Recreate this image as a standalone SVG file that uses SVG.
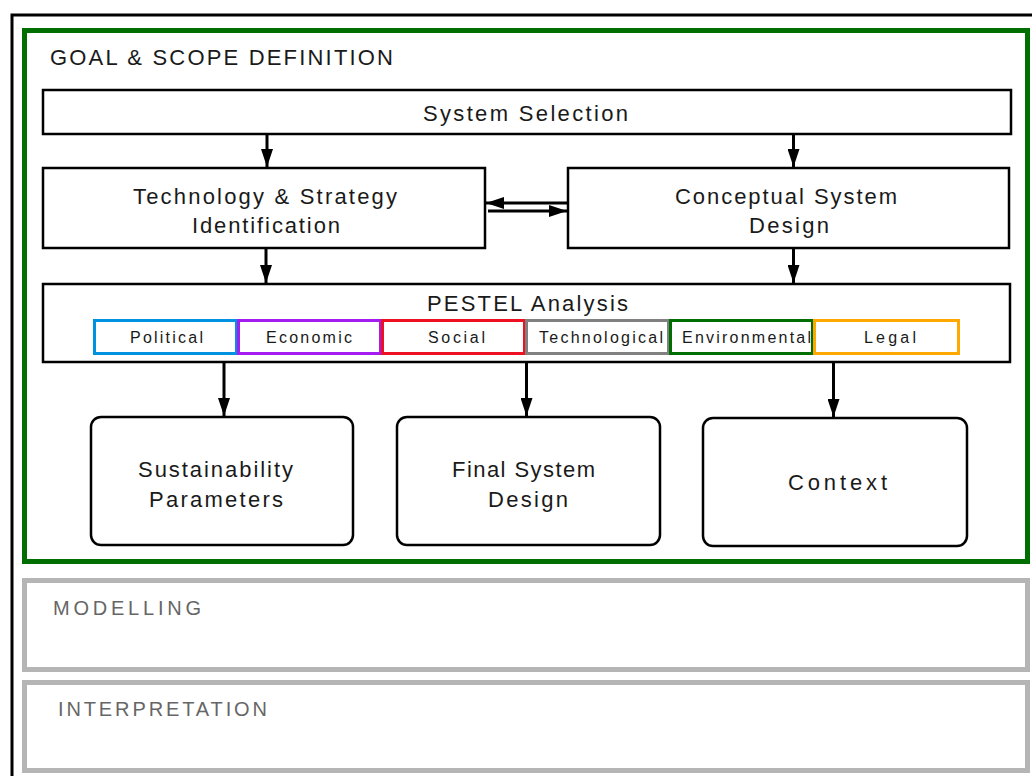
<svg xmlns="http://www.w3.org/2000/svg" width="1032" height="776" viewBox="0 0 1032 776">
<style>
text{font-family:"Liberation Sans","DejaVu Sans",sans-serif;fill:#1a1a1a}
.t{font-size:22px}
.s{font-size:16px}
.g{font-size:20px;fill:#666}
.box{fill:#fff;stroke:#000;stroke-width:2.5}
.rbox{fill:#fff;stroke:#000;stroke-width:2.5}
.sub{fill:none;stroke-width:3}
.c{stroke:#000;stroke-width:3;fill:none}
</style>
<defs>
<marker id="ah" markerUnits="userSpaceOnUse" markerWidth="18" markerHeight="12" refX="18" refY="6" viewBox="0 0 18 12" orient="auto">
<path d="M0,0 L18,6 L0,12 Z" fill="#000"/>
</marker>
</defs>
<rect width="1032" height="776" fill="#fff"/>
<rect x="12" y="15" width="1040" height="800" fill="none" stroke="#000" stroke-width="3"/>

<g id="goal-scope">
<rect x="24.5" y="30.5" width="1003" height="531" fill="#fff" stroke="#006e00" stroke-width="5"/>
<text x="50" y="65" class="t" textLength="343" lengthAdjust="spacing">GOAL &amp; SCOPE DEFINITION</text>
</g>

<g id="system-selection">
<rect class="box" x="43" y="90" width="968" height="44"/>
<text x="423" y="121" class="t" textLength="205" lengthAdjust="spacing">System Selection</text>
</g>

<g id="tech-strategy">
<rect class="box" x="43" y="168" width="442" height="80"/>
<text x="133" y="204" class="t" textLength="264" lengthAdjust="spacing">Technology &amp; Strategy</text>
<text x="192" y="233" class="t" textLength="148" lengthAdjust="spacing">Identification</text>
</g>

<g id="conceptual-design">
<rect class="box" x="568" y="168" width="441" height="80"/>
<text x="675" y="204" class="t" textLength="222" lengthAdjust="spacing">Conceptual System</text>
<text x="749" y="233" class="t" textLength="80" lengthAdjust="spacing">Design</text>
</g>

<g id="pestel">
<rect class="box" x="43" y="284" width="967" height="78"/>
<text x="427" y="311" class="t" textLength="201" lengthAdjust="spacing">PESTEL Analysis</text>
<rect class="sub" x="94.5" y="320.5" width="142" height="33" stroke="#0091e0"/>
<rect class="sub" x="238.5" y="320.5" width="142" height="33" stroke="#a41cf0"/>
<rect class="sub" x="382.5" y="320.5" width="142" height="33" stroke="#ee1122"/>
<rect class="sub" x="526.5" y="320.5" width="142" height="33" stroke="#808080"/>
<rect class="sub" x="670.5" y="320.5" width="142" height="33" stroke="#006e00"/>
<rect class="sub" x="814.5" y="320.5" width="144" height="33" stroke="#ffa800"/>
<text x="130" y="343" class="s" textLength="73" lengthAdjust="spacing">Political</text>
<text x="266" y="343" class="s" textLength="86" lengthAdjust="spacing">Economic</text>
<text x="428" y="343" class="s" textLength="57" lengthAdjust="spacing">Social</text>
<text x="539" y="343" class="s" textLength="124" lengthAdjust="spacing">Technological</text>
<text x="682" y="343" class="s" textLength="129" lengthAdjust="spacing">Environmental</text>
<text x="864" y="343" class="s" textLength="52" lengthAdjust="spacing">Legal</text>
</g>

<g id="sustainability">
<rect class="rbox" x="91" y="417" width="262" height="128" rx="10"/>
<text x="138" y="477" class="t" textLength="155" lengthAdjust="spacing">Sustainability</text>
<text x="149" y="507" class="t" textLength="134" lengthAdjust="spacing">Parameters</text>
</g>

<g id="final-design">
<rect class="rbox" x="397" y="417" width="263" height="128" rx="10"/>
<text x="452" y="477" class="t" textLength="143" lengthAdjust="spacing">Final System</text>
<text x="488" y="507" class="t" textLength="80" lengthAdjust="spacing">Design</text>
</g>

<g id="context">
<rect class="rbox" x="703" y="418" width="264" height="128" rx="10"/>
<text x="788" y="490" class="t" textLength="99" lengthAdjust="spacing">Context</text>
</g>

<g id="modelling">
<rect x="24.5" y="580.5" width="1003" height="89" fill="#fff" stroke="#b5b5b5" stroke-width="5"/>
<text x="53" y="615" class="g" textLength="148" lengthAdjust="spacing">MODELLING</text>
</g>

<g id="interpretation">
<rect x="24.5" y="682.5" width="1003" height="88" fill="#fff" stroke="#b5b5b5" stroke-width="5"/>
<text x="58" y="716" class="g" textLength="209" lengthAdjust="spacing">INTERPRETATION</text>
</g>

<g id="connectors">
<line class="c" x1="267" y1="134" x2="267" y2="167" marker-end="url(#ah)"/>
<line class="c" x1="793.5" y1="134" x2="793.5" y2="167" marker-end="url(#ah)"/>
<line class="c" x1="567" y1="203" x2="486" y2="203" marker-end="url(#ah)"/>
<line class="c" x1="488" y1="211" x2="567" y2="211" marker-end="url(#ah)"/>
<line class="c" x1="266" y1="248" x2="266" y2="283" marker-end="url(#ah)"/>
<line class="c" x1="793.5" y1="248" x2="793.5" y2="283" marker-end="url(#ah)"/>
<line class="c" x1="224" y1="361" x2="224" y2="416" marker-end="url(#ah)"/>
<line class="c" x1="526.5" y1="361" x2="526.5" y2="416" marker-end="url(#ah)"/>
<line class="c" x1="833.5" y1="361" x2="833.5" y2="417" marker-end="url(#ah)"/>
</g>
</svg>
